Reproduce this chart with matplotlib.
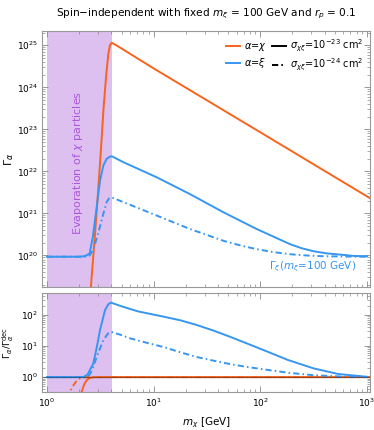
import matplotlib.pyplot as plt
import numpy as np

# values, as log10(m_chi / GeV) and log10(value)
evap_range = [1.0, 4.05]   # GeV, shaded region

# top panel: Gamma_alpha
orange_lx = [0.40, 0.45, 0.50, 0.53, 0.555, 0.575, 0.59, 0.607, 0.65, 1.0, 2.0, 3.03]
orange_ly = [18.9, 20.5, 22.3, 23.5, 24.3, 24.8, 25.0, 25.06, 25.0, 24.45, 22.93, 21.36]

blue_lx = [0.0, 0.30, 0.34, 0.37, 0.40, 0.43, 0.466, 0.497, 0.528, 0.559, 0.59, 0.607,
           0.715, 1.028, 1.34, 1.652, 1.965, 2.277, 2.39, 2.5, 2.62, 2.75, 2.87, 3.0]
blue_ly = [19.97, 19.97, 19.98, 20.0, 20.05, 20.45, 21.15, 21.78, 22.14, 22.3, 22.35, 22.36,
           22.22, 21.86, 21.46, 21.03, 20.63, 20.27, 20.17, 20.1, 20.05, 20.02, 19.99, 19.98]

blued_lx = [0.0, 0.38, 0.40, 0.434, 0.481, 0.528, 0.559, 0.584, 0.607,
            0.715, 1.028, 1.34, 1.652, 1.81, 1.965, 2.12, 2.277, 2.43, 2.6, 3.0]
blued_ly = [19.97, 19.97, 20.0, 20.14, 20.54, 20.99, 21.27, 21.37, 21.38,
            21.27, 20.95, 20.63, 20.35, 20.24, 20.15, 20.08, 20.03, 20.0, 19.98, 19.97]

# bottom panel: Gamma_alpha / Gamma_alpha^dec
r_blue_lx = [0.0, 0.34, 0.38, 0.434, 0.466, 0.497, 0.544, 0.575, 0.60, 0.70, 0.85,
             1.09, 1.25, 1.403, 1.56, 1.715, 1.87, 2.03, 2.26, 2.5, 2.73, 3.0]
r_blue_ly = [0.0, 0.0, 0.08, 0.44, 0.95, 1.52, 2.16, 2.35, 2.40, 2.28, 2.12,
             1.95, 1.83, 1.68, 1.50, 1.30, 1.09, 0.87, 0.55, 0.28, 0.10, 0.01]

r_blued_lx = [0.0, 0.385, 0.42, 0.466, 0.528, 0.57, 0.60, 0.70, 0.778, 0.93,
              1.09, 1.25, 1.40, 1.56, 1.715, 1.87, 2.03, 2.26, 2.5, 2.75, 3.0]
r_blued_ly = [0.0, 0.0, 0.2, 0.65, 1.19, 1.40, 1.46, 1.35, 1.25, 1.11,
              0.97, 0.80, 0.65, 0.53, 0.42, 0.33, 0.25, 0.14, 0.06, 0.02, 0.0]

r_orange_lx = [0.30, 0.325, 0.35, 0.375, 0.40, 0.43, 0.47, 3.03]
r_orange_ly = [-0.7, -0.47, -0.22, -0.09, -0.03, -0.005, 0.0, 0.0]

r_oranged_lx = [0.19, 0.215, 0.25, 0.28, 0.31, 0.34, 0.38, 3.03]
r_oranged_ly = [-0.7, -0.47, -0.25, -0.11, -0.04, -0.01, 0.0, 0.0]

c_or = '#f8641c'
c_bl = '#3796f0'
c_pu = '#ddbff0'
dd = (0, (3.2, 1.6, 0.8, 1.6))
lw = 1.4


def p(v):
    return 10 ** np.array(v)


fig = plt.figure(figsize=(3.74, 4.30), dpi=100)
ax1 = fig.add_axes([0.1123, 0.3326, 0.877, 0.5953])
ax2 = fig.add_axes([0.1123, 0.0884, 0.877, 0.2302], sharex=ax1)

for ax in (ax1, ax2):
    ax.set_xscale('log')
    ax.set_yscale('log')
    ax.axvspan(evap_range[0], evap_range[1], color=c_pu, lw=0, zorder=0)
    ax.tick_params(which='both', direction='in', top=True, right=True,
                   color='#888888', labelsize=6.5, pad=3)
    ax.tick_params(which='major', length=4, width=0.6)
    ax.tick_params(which='minor', length=2, width=0.5)
    for s in ax.spines.values():
        s.set_color('#999999')
        s.set_linewidth(0.8)

# top panel
ax1.plot(p(orange_lx), p(orange_ly), color=c_or, lw=lw)
ax1.plot(p(blue_lx), p(blue_ly), color=c_bl, lw=lw)
ax1.plot(p(blued_lx), p(blued_ly), color=c_bl, lw=lw, ls=dd)
ax1.set_xlim(10 ** -0.047, 10 ** 3.028)
ax1.set_ylim(10 ** 19.25, 10 ** 25.34)
ax1.tick_params(labelbottom=False)
ax1.set_ylabel(r'$\Gamma_\alpha$', fontsize=8)
ax1.yaxis.set_label_coords(-0.08, 0.5)
ax1.text(1.95, 10 ** 22.2, r'Evaporation of $\chi$ particles', rotation=90,
         color='#b056dc', fontsize=8, ha='center', va='center')
ax1.text(310, 10 ** 19.73, r'$\Gamma_\xi(m_\xi$=100 GeV)', color=c_bl,
         fontsize=7.5, ha='center', va='center')
ax1.set_title(r'Spin$-$independent with fixed $m_\xi$ = 100 GeV and $r_p$ = 0.1',
              fontsize=7.6, pad=11)

handles = [plt.Line2D([], [], color=c_or, lw=lw),
           plt.Line2D([], [], color=c_bl, lw=lw),
           plt.Line2D([], [], color='k', lw=lw),
           plt.Line2D([], [], color='k', lw=lw, ls=dd)]
labels = [r'$\alpha$=$\chi$', r'$\alpha$=$\xi$',
          r'$\sigma_{\chi\xi}$=10$^{-23}$ cm$^2$', r'$\sigma_{\chi\xi}$=10$^{-24}$ cm$^2$']
ax1.legend(handles, labels, ncol=2, loc='upper right', frameon=False, fontsize=7,
           handlelength=1.4, handletextpad=0.4, columnspacing=0.6,
           labelspacing=0.3, borderaxespad=0.3)

# bottom panel
ax2.plot(p(r_orange_lx), p(r_orange_ly), color=c_or, lw=lw)
ax2.plot(p(r_oranged_lx), p(r_oranged_ly), color=c_or, lw=lw, ls=dd)
ax2.plot(p(r_blue_lx), p(r_blue_ly), color=c_bl, lw=lw)
ax2.plot(p(r_blued_lx), p(r_blued_ly), color=c_bl, lw=lw, ls=dd)
ax2.axhline(1, color='k', alpha=0.35, lw=0.9)
ax2.set_ylim(10 ** -0.48, 10 ** 2.71)
ax2.set_ylabel(r'$\Gamma_\alpha/\Gamma_\alpha^{\rm dec}$', fontsize=6.8)
ax2.yaxis.set_label_coords(-0.078, 0.5)
ax2.set_xlabel(r'$m_\chi$ [GeV]', fontsize=7.5, labelpad=5)

fig.savefig('out.png', dpi=100)
